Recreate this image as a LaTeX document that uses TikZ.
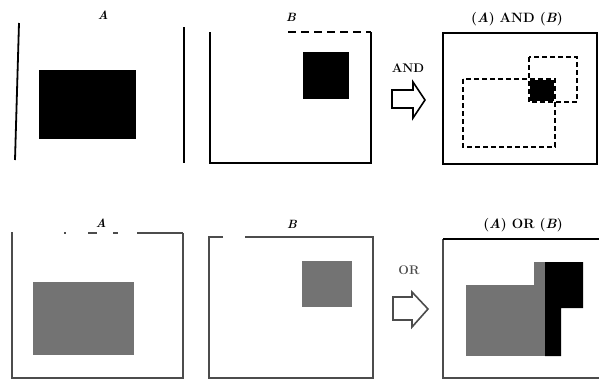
\documentclass[tikz,border=0pt]{standalone}
\usetikzlibrary{calc}
\definecolor{fillgray}{gray}{0.45}
\definecolor{frameg}{gray}{0.3}
\begin{document}
\begin{tikzpicture}[x=1pt,y=-1pt,
  frame/.style={line width=1.8pt,black},
  frameb/.style={line width=1.6pt,frameg},
  dashbox/.style={line width=2pt,dash pattern=on 5pt off 3pt,black},
  lab/.style={font=\fontsize{12.5}{14}\selectfont\bfseries,inner sep=0pt},
  title/.style={font=\fontsize{13.5}{15}\selectfont\bfseries,inner sep=0pt},
  letter/.style={font=\fontsize{12}{14}\selectfont\bfseries\itshape,inner sep=0pt},
  blockarrow/.style={line width=1.6pt,line join=miter}]
\useasboundingbox (0,0) rectangle (599,381);
% ---------- top row ----------
% panel A
\node[letter] (la1) at (103,15) {A};
\draw[frame] (19,23) -- (15,160);
\draw[frame] (184,27) -- (184,163);
\fill[black] (39,70) rectangle (136,139);
% panel B
\node[letter] (lb1) at (291,17) {B};
\draw[frame] (210,32) -- (210,163) -- (371,163) -- (371,32);
\draw[frame,dash pattern=on 8pt off 5pt] (288,32) -- (371,32);
\fill[black] (303,52) rectangle (349,99);
% AND arrow
\node[lab] (andl) at (408,68) {AND};
\draw[blockarrow] (392,90) -- (413,90) -- (413,82) -- (425,100) -- (413,118) -- (413,108) -- (392,108) -- cycle;
% result AND
\node[title] (land) at (517,19) {(\textit{A}) AND (\textit{B})};
\draw[frame] (443,33) rectangle (597,164);
\draw[dashbox] (463,79) rectangle (555,147);
\draw[dashbox] (529,57) rectangle (577,102);
\fill[black] (530,80) rectangle (554,101);
% ---------- bottom row ----------
% panel A
\node[letter] (la2) at (101,223) {A};
\draw[frameb] (12,232) -- (12,378) -- (183,378) -- (183,233);
\draw[frameb] (137,233) -- (183,233);
\draw[frameb] (113,233) -- (118,233);
\draw[frameb] (88,233) -- (97,233);
\draw[frameb] (64,233) -- (66,233);
\fill[fillgray] (33,282) rectangle (134,355);
% panel B
\node[letter] (lb2) at (292,224) {B};
\draw[frameb] (223,237) -- (209,237) -- (209,378) -- (373,378) -- (373,237) -- (245,237);
\fill[fillgray] (302,261) rectangle (352,307);
% OR arrow
\node[lab,text=frameg] (orl) at (409,270) {OR};
\draw[blockarrow,frameg] (393,297) -- (412,297) -- (412,292) -- (428,309) -- (412,327) -- (412,320) -- (393,320) -- cycle;
% result OR
\node[title] (lor) at (523,225) {(\textit{A}) OR (\textit{B})};
\draw[frameb] (599,378) -- (443,378) -- (443,239);
\draw[frame] (443,239) -- (599,239);
\fill[fillgray] (466,285) rectangle (545,356);
\fill[fillgray] (534,262) rectangle (545,285);
\fill[black] (545,262) -- (583,262) -- (583,308) -- (561,308) -- (561,356) -- (545,356) -- cycle;
\end{tikzpicture}
\end{document}
